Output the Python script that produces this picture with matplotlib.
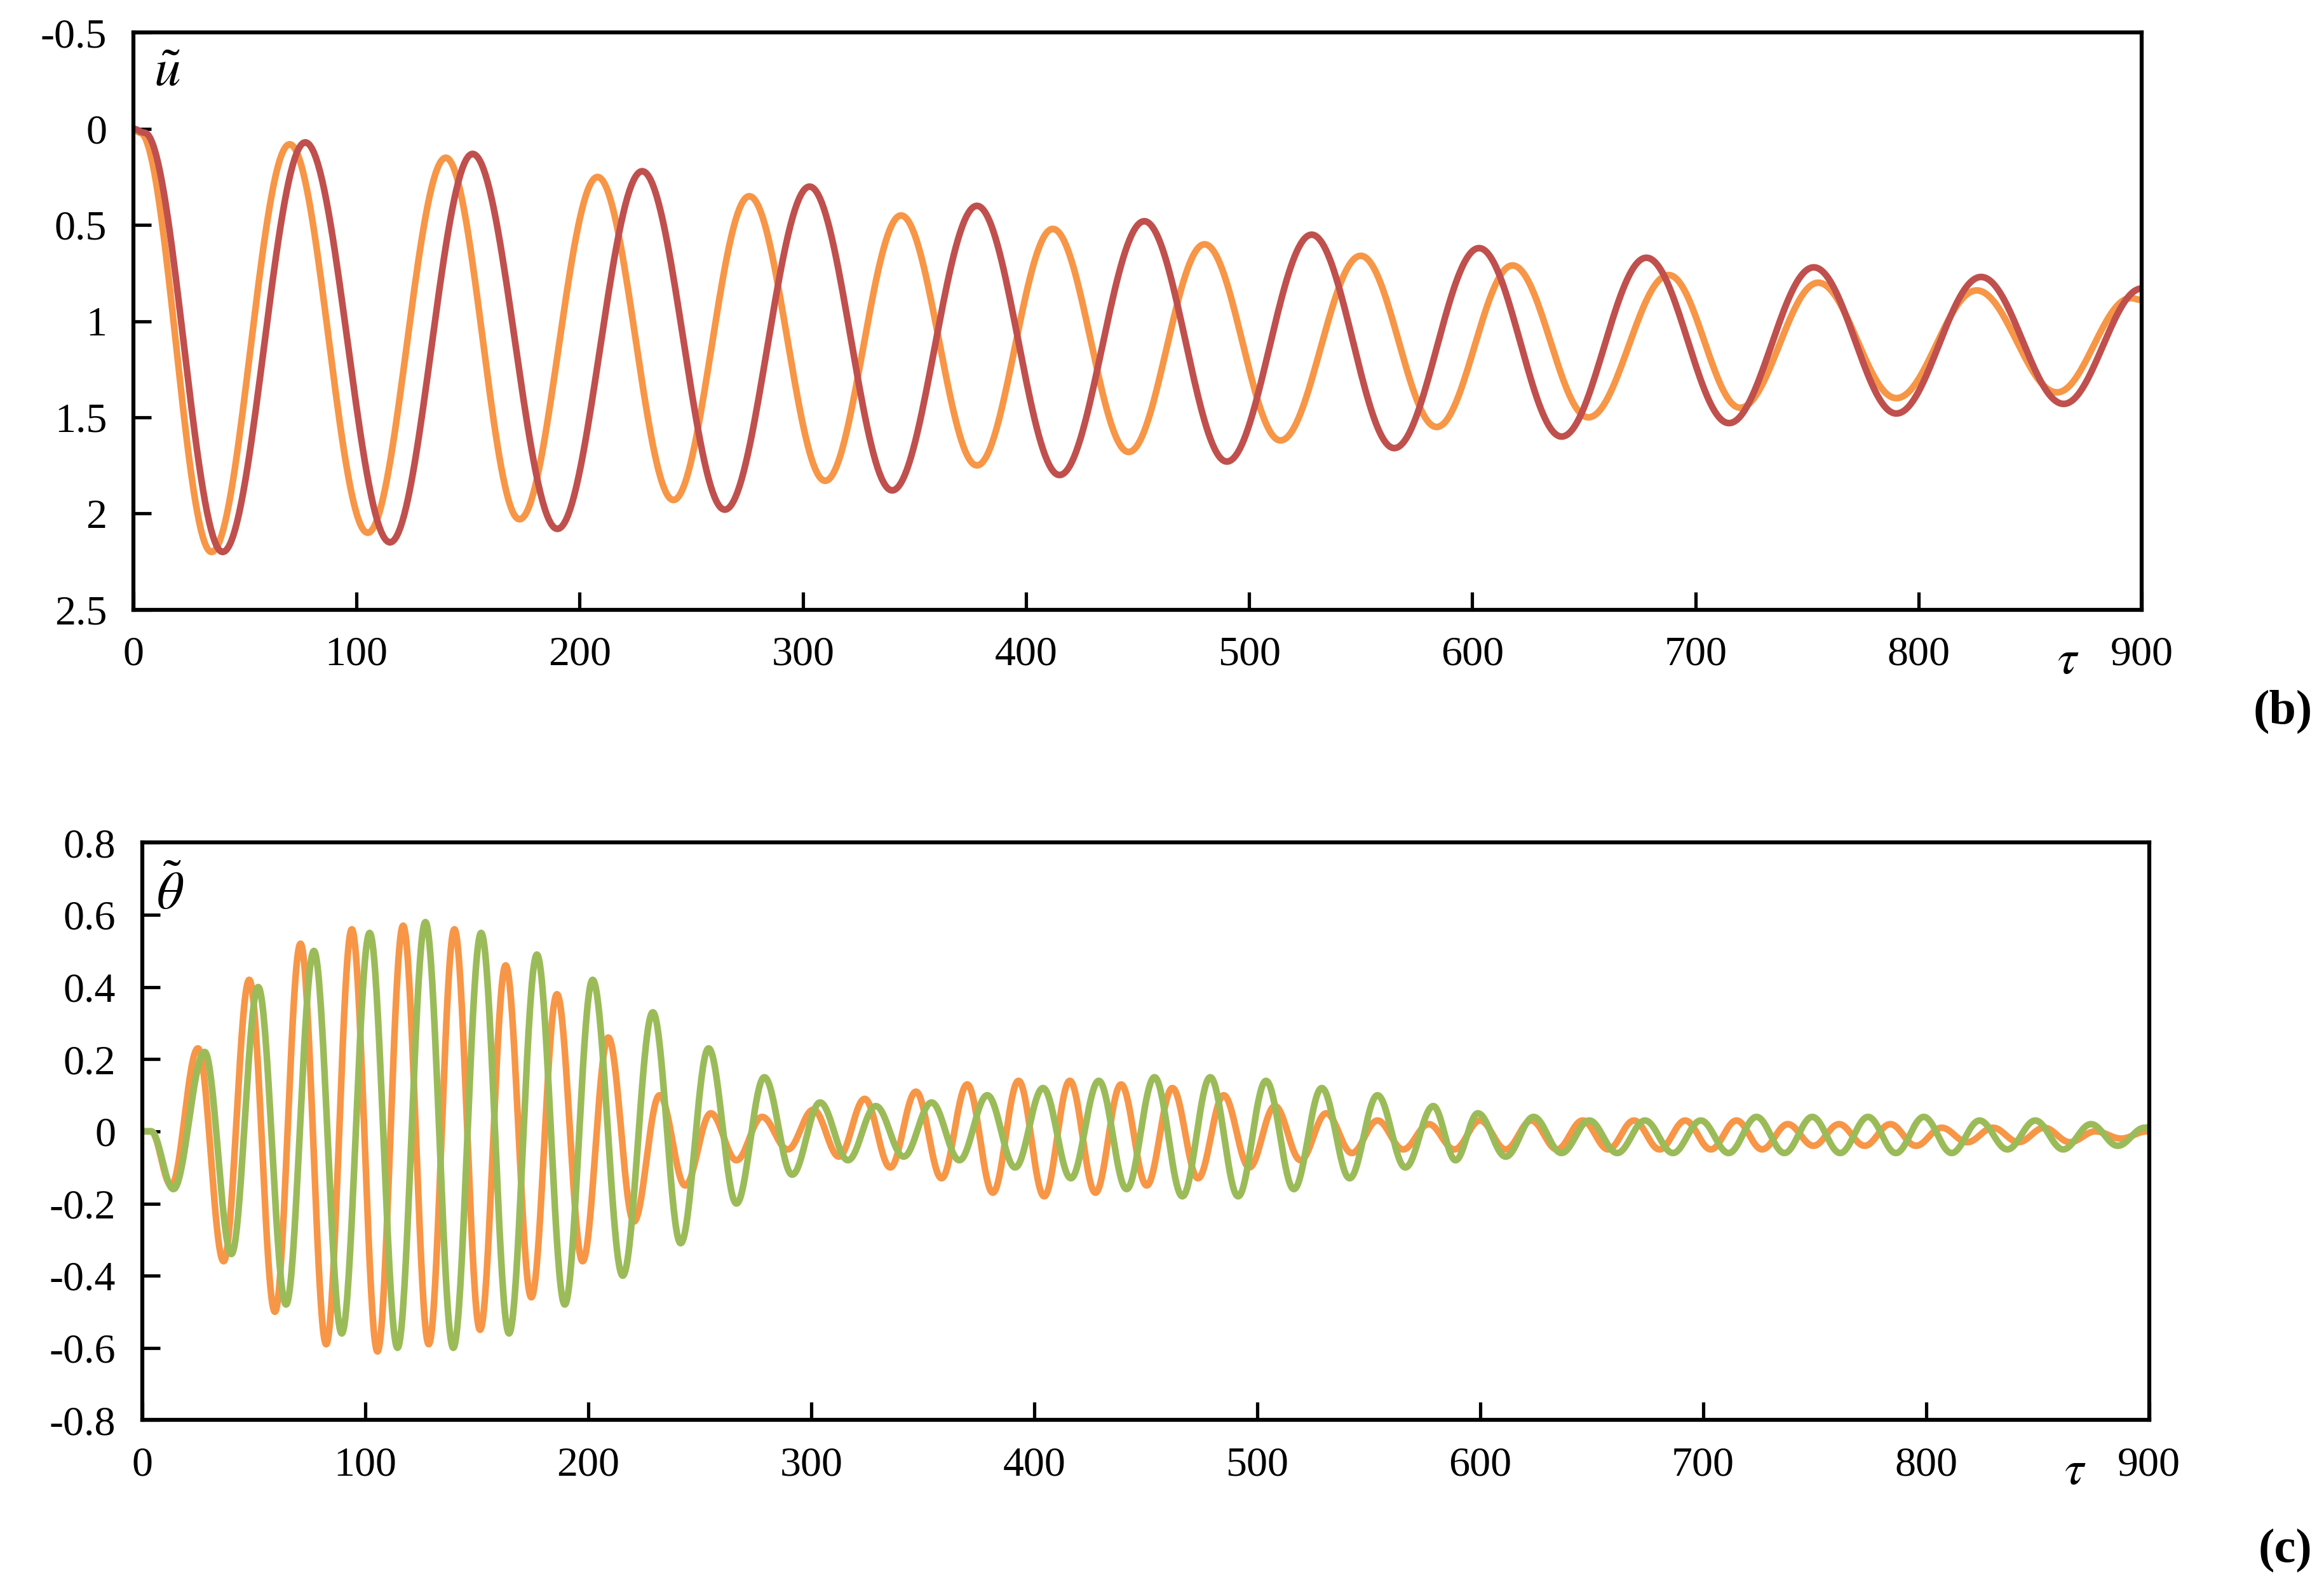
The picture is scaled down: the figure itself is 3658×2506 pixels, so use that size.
import numpy as np
import matplotlib
matplotlib.use("Agg")
import matplotlib.pyplot as plt

plt.rcParams['font.family'] = ['Liberation Serif', 'DejaVu Serif']
plt.rcParams['mathtext.fontset'] = 'stix'

# ---- panel (b): extrema (tau, u) ----
u1_t = [0, 3, 35, 70, 105, 140, 173, 208, 242, 276, 310, 344, 378, 412, 446, 480, 514, 550, 584, 618, 652, 688, 720, 755, 790, 826, 862, 895, 900]
u1_v = [0, 0.02, 2.2, 0.08, 2.1, 0.15, 2.03, 0.25, 1.93, 0.35, 1.83, 0.45, 1.75, 0.52, 1.68, 0.6, 1.62, 0.66, 1.55, 0.71, 1.5, 0.76, 1.45, 0.8, 1.4, 0.84, 1.37, 0.88, 0.89]
u2_t = [0, 5, 40, 77, 115, 152, 190, 228, 265, 303, 340, 378, 415, 453, 490, 528, 565, 603, 640, 678, 715, 753, 790, 828, 865, 900]
u2_v = [0, 0.02, 2.2, 0.07, 2.15, 0.13, 2.08, 0.22, 1.98, 0.3, 1.88, 0.4, 1.8, 0.48, 1.73, 0.55, 1.66, 0.62, 1.6, 0.67, 1.53, 0.72, 1.48, 0.77, 1.43, 0.83]

# ---- panel (c): peaks and troughs ----
th1_start = [(0, 0.0), (4, 0.0), (13, -0.15)]
th1_peak_t = [25, 48, 71, 94, 117, 140, 163, 186, 209, 232, 255, 278, 301, 324, 347, 370, 393, 416, 439, 462, 485, 508, 531, 554, 577, 600, 623, 646, 669, 692, 715, 738, 761, 784, 807, 830, 853, 876, 899]
th1_peak = [0.23, 0.42, 0.52, 0.56, 0.57, 0.56, 0.46, 0.38, 0.26, 0.10, 0.05, 0.04, 0.06, 0.09, 0.11, 0.13, 0.14, 0.14, 0.13, 0.12, 0.10, 0.07, 0.05, 0.03, 0.02, 0.03, 0.03, 0.03, 0.03, 0.03, 0.03, 0.02, 0.02, 0.02, 0.01, 0.01, 0.01, 0.0, 0.0]
th1_trough = [-0.36, -0.5, -0.59, -0.61, -0.59, -0.55, -0.46, -0.36, -0.25, -0.15, -0.08, -0.05, -0.07, -0.1, -0.13, -0.17, -0.18, -0.17, -0.15, -0.13, -0.1, -0.08, -0.06, -0.05, -0.05, -0.05, -0.05, -0.05, -0.05, -0.05, -0.05, -0.04, -0.04, -0.04, -0.03, -0.03, -0.03, -0.02, -0.02]

th2_start = [(0, 0.0), (4, 0.0), (14, -0.16)]
th2_peak_t = [28, 52, 77, 102, 127, 152, 177, 202, 229, 254, 279, 304, 329, 354, 379, 404, 429, 454, 479, 504, 529, 554, 579, 599, 624, 649, 674, 699, 724, 749, 774, 799, 824, 849, 874, 898]
th2_peak = [0.22, 0.40, 0.50, 0.55, 0.58, 0.55, 0.49, 0.42, 0.33, 0.23, 0.15, 0.08, 0.07, 0.08, 0.10, 0.12, 0.14, 0.15, 0.15, 0.14, 0.12, 0.10, 0.07, 0.05, 0.04, 0.03, 0.03, 0.03, 0.04, 0.04, 0.04, 0.04, 0.03, 0.03, 0.02, 0.01]
th2_trough = [-0.34, -0.48, -0.56, -0.6, -0.6, -0.56, -0.48, -0.4, -0.31, -0.2, -0.12, -0.08, -0.07, -0.08, -0.1, -0.13, -0.16, -0.18, -0.18, -0.16, -0.13, -0.1, -0.08, -0.07, -0.06, -0.06, -0.06, -0.06, -0.06, -0.06, -0.06, -0.06, -0.05, -0.05, -0.04, -0.03]

xticks = [0, 100, 200, 300, 400, 500, 600, 700, 800, 900]
xlabels = ['0', '100', '200', '300', '400', '500', '600', '700', '800', '900']
uticks = [-0.5, 0, 0.5, 1, 1.5, 2, 2.5]
ulabels = ['-0.5', '0', '0.5', '1', '1.5', '2', '2.5']
thticks = [-0.8, -0.6, -0.4, -0.2, 0, 0.2, 0.4, 0.6, 0.8]
thlabels = ['-0.8', '-0.6', '-0.4', '-0.2', '0', '0.2', '0.4', '0.6', '0.8']

ORANGE, RED, GREEN = '#F79646', '#C0504D', '#9BBB59'


def build_extrema(start, peak_t, peaks, troughs):
    t = [p[0] for p in start]
    v = [p[1] for p in start]
    for i, (pt, pv, tv) in enumerate(zip(peak_t, peaks, troughs)):
        t.append(pt); v.append(pv)
        nxt = peak_t[i + 1] if i + 1 < len(peak_t) else None
        if nxt is not None:
            t.append((pt + nxt) / 2); v.append(tv)
    return t, v


def smooth(t, v, n=40):
    xs, ys = [], []
    for i in range(len(t) - 1):
        s = np.linspace(0, 1, n, endpoint=False)
        xs.append(t[i] + (t[i + 1] - t[i]) * s)
        ys.append(v[i] + (v[i + 1] - v[i]) * (1 - np.cos(np.pi * s)) / 2)
    xs.append([t[-1]]); ys.append([v[-1]])
    return np.concatenate(xs), np.concatenate(ys)


fig = plt.figure(figsize=(14.632, 10.024), dpi=250)
ax1 = fig.add_axes([0.0574, 0.617, 0.8642, 0.3625])
ax2 = fig.add_axes([0.0612, 0.108, 0.8635, 0.3627])

x, y = smooth(u1_t, u1_v); ax1.plot(x, y, color=ORANGE, lw=3.0)
x, y = smooth(u2_t, u2_v); ax1.plot(x, y, color=RED, lw=3.0)
ax1.set_xlim(0, 900); ax1.set_ylim(2.5, -0.5)
ax1.set_yticks(uticks); ax1.set_yticklabels(ulabels)

t, v = build_extrema(th1_start, th1_peak_t, th1_peak, th1_trough)
x, y = smooth(t, v); ax2.plot(x, y, color=ORANGE, lw=3.0)
t, v = build_extrema(th2_start, th2_peak_t, th2_peak, th2_trough)
x, y = smooth(t, v); ax2.plot(x, y, color=GREEN, lw=3.0)
ax2.set_xlim(0, 900); ax2.set_ylim(-0.8, 0.8)
ax2.set_yticks(thticks); ax2.set_yticklabels(thlabels)

for ax in (ax1, ax2):
    ax.set_xticks(xticks); ax.set_xticklabels(xlabels)
    ax.tick_params(direction='in', length=8, width=1.5, labelsize=19, pad=12)
    for s in ax.spines.values():
        s.set_linewidth(1.8)
    ax.text(867, -0.09, r'$\tau$', transform=ax.get_xaxis_transform(), ha='center', va='center', fontsize=22)

ax1.text(0.01, 0.93, r'$\tilde{u}$', transform=ax1.transAxes, fontsize=24, va='center')
ax2.text(0.007, 0.91, r'$\tilde{\theta}$', transform=ax2.transAxes, fontsize=24, va='center')
fig.text(0.995, 0.553, '(b)', ha='right', va='center', fontsize=22, fontweight='bold')
fig.text(0.995, 0.026, '(c)', ha='right', va='center', fontsize=22, fontweight='bold')

fig.savefig('out.png', dpi=250)
